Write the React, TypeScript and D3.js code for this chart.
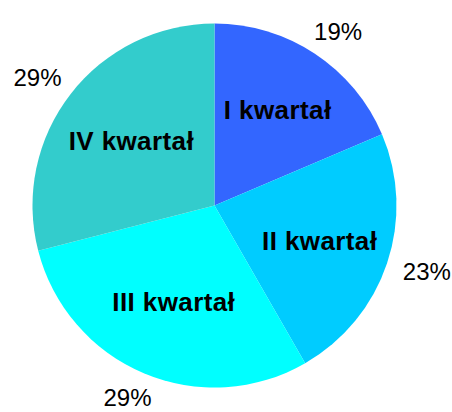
import React, { useEffect, useRef } from "react";
import * as d3 from "d3";

const quarters = ["I kwartał", "II kwartał", "III kwartał", "IV kwartał"];
// shares; the labels show them rounded
const shares = [18.6, 23.1, 29.3, 29.0];
const colors = ["#3366FF", "#00CCFF", "#00FFFF", "#33CCCC"];

export default function App() {
  const svgRef = useRef<SVGSVGElement>(null);

  useEffect(() => {
    if (!svgRef.current) return;
    const width = 452;
    const height = 412;
    const cx = 214.5;
    const cy = 205.5;
    const radius = 182;

    const svg = d3.select(svgRef.current);
    svg.attr("width", width).attr("height", height);
    svg.selectAll("*").remove();

    const g = svg.append("g").attr("transform", `translate(${cx},${cy})`);

    const pie = d3
      .pie<number>()
      .sort(null)
      .value((d) => d);
    const arcs = pie(shares);

    const arc = d3.arc<d3.PieArcDatum<number>>().innerRadius(0).outerRadius(radius);

    // slices
    g.selectAll("path.slice")
      .data(arcs)
      .enter()
      .append("path")
      .attr("class", "slice")
      .attr("d", arc)
      .attr("fill", (_, i) => colors[i]);

    // names at the centroid of each sector
    const namePos = (d: d3.PieArcDatum<number>) => {
      const mid = (d.startAngle + d.endAngle) / 2;
      const half = (d.endAngle - d.startAngle) / 2;
      const dist = (2 * radius * Math.sin(half)) / (3 * half);
      return [Math.sin(mid) * dist, -Math.cos(mid) * dist];
    };

    g.selectAll("text.name")
      .data(arcs)
      .enter()
      .append("text")
      .attr("class", "name")
      .attr("transform", (d) => `translate(${namePos(d)})`)
      .attr("text-anchor", "middle")
      .attr("dy", "0.35em")
      .style("font-family", "'Liberation Sans', Arial, sans-serif")
      .style("font-weight", "bold")
      .style("font-size", "26px")
      .style("letter-spacing", "0.4px")
      .style("fill", "#000")
      .text((_, i) => quarters[i]);

    // percentages just outside the rim
    const outR = radius + 21;
    const pctPos = (d: d3.PieArcDatum<number>) => {
      const mid = (d.startAngle + d.endAngle) / 2;
      const s = Math.sin(mid);
      const c = Math.cos(mid);
      return [s * outR + s * 21, -c * outR - c * 6];
    };

    g.selectAll("text.pct")
      .data(arcs)
      .enter()
      .append("text")
      .attr("class", "pct")
      .attr("transform", (d) => `translate(${pctPos(d)})`)
      .attr("text-anchor", "middle")
      .attr("dy", "0.35em")
      .style("font-family", "'Liberation Sans', Arial, sans-serif")
      .style("font-size", "24px")
      .style("fill", "#000")
      .text((d) => `${Math.round(d.data)}%`);
  }, []);

  return (
    <svg
      ref={svgRef}
      style={{ position: "absolute", left: 0, top: 0, background: "#fff" }}
    />
  );
}
